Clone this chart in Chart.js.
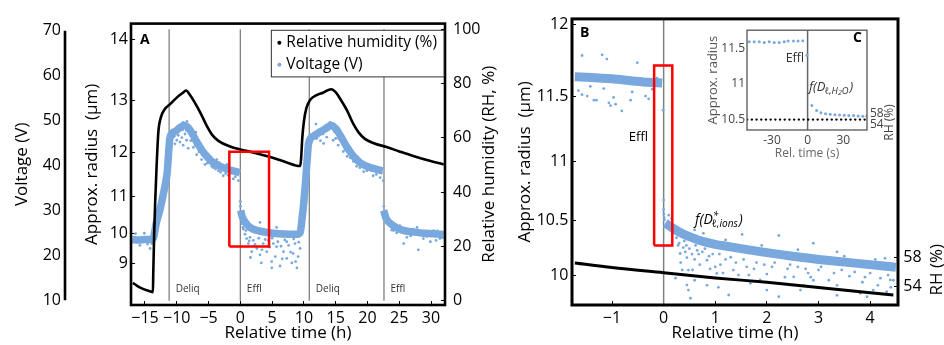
<!DOCTYPE html>
<html><head><meta charset="utf-8">
<script src="https://cdn.jsdelivr.net/npm/chart.js@4"></script>
<style>
html,body{margin:0;padding:0;background:#fff;}
#wrap{position:relative;width:944px;height:345px;overflow:hidden;background:#fff;}
canvas{position:absolute;}
</style></head><body>
<div id="wrap">
<canvas id="cA" width="500" height="345" style="left:0;top:0"></canvas>
<canvas id="cB" width="444" height="345" style="left:500px;top:0"></canvas>
<canvas id="cC" width="215" height="150" style="left:690px;top:20px"></canvas>
</div>
<script>
// ================= DATA =================
// Panel A
const xTicksA = [-15,-10,-5,0,5,10,15,20,25,30];
const radiusTicksA = [9,10,11,12,13,14];
const voltTicksA = [10,20,30,40,50,60,70];
const rhTicksA = [0,20,40,60,80,100];
const rhTimeA = [-16.9,-16.3,-15.5,-14.6,-13.75,-13.7,-13.55,-13.4,-13.2,-12.9,-12.5,-11.9,-11,-10,-9.2,-8.5,-8,-7.3,-6.3,-5.3,-4.4,-3.4,-1.6,0,2,4.7,7,9.4,9.55,9.75,10,10.4,11,12,13,14.3,15,15.8,16.8,17.8,18.6,19.6,21,23,25,27.2,29.5,32];
const rhValA  = [6.6,5.6,4.6,3.8,3.2,10,25,36,48,62,67.5,70.5,72.5,74.8,76.3,77.4,76,73.5,69.3,64.5,61,58.8,56.8,55.7,54.6,52.9,51.2,49.6,52,60,66,71,74,75.7,76.6,77.9,76.8,74,70,65,62,59.6,58,56.6,55,53.3,51.7,50.2];
const voltTimeA = [-17,-16,-15,-14,-13.7,-13.2,-12.65,-12.1,-11.7,-11.5,-11.3,-11.1,-10.7,-10.2,-9.5,-8.8,-8.2,-7.5,-6.8,-6,-5.2,-4.4,-3.5,-2.5,-1.5,-0.4,-0.05,0,
  0.05,0.3,0.7,1.2,2,3,4.5,6,7.5,9.0,9.4,9.7,10.0,10.3,10.55,10.75,11.5,12.5,13.5,14.3,15,15.8,16.6,17.4,18.2,19.2,20.3,21.5,22.4,22.5,
  22.55,22.9,23.5,24.5,25.5,27,29,31,32];
const voltValA = [23.5,23.4,23.5,23.5,23.8,27.3,30.1,33.7,36.6,38.5,42.4,46,47.2,47.6,48.4,48.9,48.4,46.9,45.1,43.3,41.9,40.8,40.0,39.4,38.9,38.5,38.3,null,
  30.0,28.6,27.5,26.6,25.8,25.4,25.0,24.8,24.7,24.7,25.0,28,32,37,42,45,46.5,47.4,48.3,48.9,48.2,46.5,44.5,42.8,41.4,40.3,39.6,39.1,38.8,null,
  30.0,28.3,27.2,26.2,25.6,25.2,24.9,24.7,24.6];
const voltSprayTimeA = [-15.8,-14.2,-16.5,-15.1,-14.6,-13.9,
  -10.8,-10.55,-10.0,-9.76,-9.5,-9.0,-8.45,-8.2,-7.1,-6.87,-6.1,-5.56,-4.77,-4.25,-3.46,-2.68,-1.62,-1.1,-0.57,-0.31,-3.7,-2.1,
  -10.3,-9.2,-8.7,-7.8,-7.4,-6.5,-5.9,-5.2,-4.5,-3.9,-3.1,-2.3,-1.9,-0.8,-9.0,-8.4,-7.0,
  -10.9,-10.4,-9.8,-9.1,-8.5,-7.7,-7.2,-6.6,-6.2,-5.7,-5.0,-4.1,-3.3,-2.8,-1.3,
  0.0,0.03,0.5,1.0,1.26,1.8,2.05,2.6,3.1,3.6,4.16,4.94,4.94,5.5,5.7,6.25,6.8,7.3,7.6,8.1,8.3,8.9,9.1,9.4,0.74,1.53,4.4,7.3,8.6,5.2,9.4,5.7,3.1,
  0.2,0.4,0.9,1.4,2.3,2.9,3.4,3.9,4.6,5.0,5.9,6.4,6.6,7.0,7.9,8.4,8.7,9.2,1.6,3.3,
  11.2,12.0,13.1,13.6,14.6,15.4,16.2,17.3,17.8,18.8,19.9,20.9,22.0,22.5,11.9,14.1,12.6,15.0,16.8,18.3,19.4,21.4,
  11.0,11.7,12.3,13.0,13.9,14.8,15.5,16.0,16.5,17.0,17.6,18.5,19.0,20.0,20.6,21.8,22.2,
  25.7,28.0,29.9,31.4,24.1,26.2,27.2,28.8,30.4,25.1,22.55,22.58,
  23.2,23.8,24.6,26.8,27.8,29.3,31.0,31.8,30.8];
const voltSprayValA = [22.2,21.5,24.8,24.9,22.5,22.6,
  47,46.3,45.6,46.7,45.2,44.5,45.6,43.8,44.5,42.4,41.3,40.2,40.9,39.5,38.8,37.7,38.4,37,38.1,36.6,41.3,40.2,
  44.8,46.2,47.0,45.5,44.0,43.0,42.2,40.5,39.8,39.2,38.5,38.2,37.8,37.5,49.6,49.8,47.4,
  45.5,46.5,47.8,47.9,47.8,47.3,46.3,44.2,44.0,42.8,42.3,40.3,40.6,39.8,38.4,
  32,30.9,25.8,23.7,22.6,20.8,23.3,21.5,20.1,22.6,20.8,17.2,18.6,19.7,21.9,17.6,20.8,19.3,22.2,18.3,20.4,17.2,19.7,21.5,24.7,24.0,23.3,23,22.6,22.6,26.9,26.2,27.3,
  27,26.2,25.5,23.2,22.4,23.8,21.2,23.5,21.8,23.8,23.0,22.0,19.2,23.4,20.7,23.6,18.6,22.9,19.5,18.3,
  45.2,46,44.9,46.3,45.6,44.5,43.1,41.7,40.9,39.5,38.8,37.7,37.3,36.6,49.2,49.6,45.5,46.0,42.0,39.8,38.6,38.0,
  46.8,46.3,47.9,47.0,48.0,47.5,46.0,45.9,43.5,43.8,42.3,41.9,40.8,40.0,38.9,38.7,38.3,
  22.6,21.2,23,23.7,25.5,24.0,25.8,23.7,25.5,26.6,29.4,30.9,
  27.0,25.6,25.0,24.3,26.2,24.2,25.4,23.9,23.3];
const phaseTimesA = [-11.2, 0, 10.85, 22.6];
const phaseNamesA = ['Deliq','Effl','Deliq','Effl'];
const zoomBoxTimeA = [-1.73, 4.52];
const zoomBoxRadiusA = [9.6, 12.02];

// Panel B
const xTicksB = [-1,0,1,2,3,4];
const radiusTicksB = [10,10.5,11,11.5,12];
const rhTicksB = [54,58];
const radTimeB = [-1.72,-1.4,-1.0,-0.6,-0.3,-0.03,0,0.03,0.1,0.2,0.35,0.5,0.7,1.0,1.25,1.5,1.9,2.5,3.2,3.8,4.5];
const radValB  = [11.64,11.635,11.625,11.61,11.6,11.595,null,10.48,10.46,10.43,10.39,10.36,10.325,10.29,10.27,10.25,10.22,10.18,10.14,10.11,10.075];
const radSprayTimeB = [-1.58,-1.19,-1.10,-0.51,-1.65,-1.58,-1.48,-1.35,-1.30,-1.42,-1.16,-1.06,-0.97,-0.93,-0.81,-0.64,-0.61,-0.35,-0.29,-0.22,-0.13,-0.01,-1.03,
  0.0,0.0,0.005,0.01,0.015,
  0.23,0.32,0.45,0.48,0.45,0.48,0.52,0.65,0.84,1.03,1.26,1.35,1.61,1.87,2.0,2.26,2.52,2.71,2.9,3.16,3.36,3.55,3.81,4.06,4.32,4.39,2.23,0.84,1.06,1.68,2.0,2.65,3.36,3.94,
  2.23,2.9,1.52,0.77,4.29,3.36,
  0.3,0.38,0.42,0.55,0.6,0.7,0.9,1.1,1.2,1.4,1.75,2.1,2.4,2.8,3.0,3.3,3.6,3.9,4.2,4.45,
  0.25,0.28,0.33,0.36,0.4,0.44,0.5,0.56,0.6,0.62,0.68,0.75,0.8,0.88,0.95,1.0,1.08,1.15,1.3,1.45,1.55,1.65,1.8,1.95,2.15,2.35,2.45,2.6,2.75,2.85,3.05,3.2,3.45,3.7,3.85,4.0,4.15,4.35,4.4,
  0.6,1.2,1.9,2.6,3.5,4.1,0.15,0.1];
const radSprayValB = [11.79,11.795,11.765,11.74,11.54,11.51,11.50,11.47,11.47,11.57,11.555,11.45,11.49,11.44,11.39,11.47,11.53,11.50,11.48,11.55,11.63,11.395,11.43,
  10.68,10.6,10.56,10.53,10.51,
  9.97,10.205,10.167,10.048,9.902,9.853,9.77,10.234,10.142,10.016,9.803,10.048,10.08,9.952,10.01,9.92,9.983,9.90,9.95,9.87,9.90,9.853,9.82,9.853,9.836,9.952,9.786,9.90,9.88,9.92,9.853,9.853,9.80,9.786,
  10.37,10.30,10.38,10.39,10.16,10.22,
  10.3,10.26,10.22,10.2,10.15,10.1,10.06,10.1,10.15,10.12,10.06,10.08,10.06,10.02,10.05,10.02,9.99,9.98,9.97,9.95,
  10.35,10.28,10.12,10.05,10.32,10.28,10.25,10.05,9.95,10.28,10.2,10.22,10.25,10.18,10.2,10.08,10.2,10.02,10.17,10.0,10.15,10.0,10.12,10.1,10.12,9.98,10.1,10.08,10.06,9.98,10.08,9.95,10.05,10.03,9.93,10.02,9.9,10.0,9.88,
  10.42,10.33,10.28,10.24,10.18,10.15,10.52,10.55];
const rhTimeB = [-1.72,-1,0,1,2,3,4,4.45];
const rhValB  = [57.2,56.6,55.9,55.2,54.6,53.9,53.2,52.9];
const zoomBoxTimeB = [-0.184, 0.168];
const zoomBoxRadiusB = [10.28, 11.72];

// Inset C
const xTicksC = [-30,0,30];
const radiusTicksC = [10.5,11,11.5];
const rhTicksC = [54,58];
const radTimeC = [-49.1,-44.9,-40.7,-36.5,-32.3,-28.1,-23.9,-19.7,-16.4,-11.9,-8.0,-4.1,-0.6,3.6,7.6,11.2,15.1,19.0,23.0,26.9,30.8,34.7,38.7,42.6,46.5,49.9];
const radValC  = [11.591,11.591,11.59,11.582,11.591,11.582,11.582,11.591,11.6,11.6,11.6,11.605,11.40,10.697,10.628,10.596,10.582,10.573,10.568,10.564,10.559,10.555,10.555,10.55,10.545,10.55];
const rhTimeC = [-51, 50];
const rhValC  = [55.66, 55.66];

// ================= HELPERS =================
const K_A = 0.0248;                 // voltage per µm³ (radius axis of panel A)
const volt = r => K_A * r * r * r;
const cube = r => r * r * r;
const BLUE = '#78a8de';
const FAM = "'Open Sans', 'DejaVu Sans', sans-serif";
Chart.defaults.font.family = FAM;
Chart.defaults.color = '#000';
Chart.defaults.animation = false;
Chart.defaults.plugins.legend.display = false;
Chart.defaults.plugins.tooltip.enabled = false;

const pts = (xs, ys, f) => xs.map((x, i) => ({x, y: ys[i] == null ? null : (f ? f(ys[i]) : ys[i])}));
const minus = v => String(v).replace('-', '\u2212');
const fixTicks = vals => s => { s.ticks = vals.map(v => ({value: v})); };
const boxPts = (xs, ys, f) => { const g = f || (v => v); return [
  {x: xs[0], y: g(ys[0])}, {x: xs[1], y: g(ys[0])}, {x: xs[1], y: g(ys[1])}, {x: xs[0], y: g(ys[1])}, {x: xs[0], y: g(ys[0])}]; };

function frame(lw, color) {
  return {id: 'frame' + lw, afterDraw(chart) {
    const {ctx, chartArea: a} = chart;
    ctx.save(); ctx.lineWidth = lw; ctx.strokeStyle = color;
    ctx.strokeRect(a.left, a.top, a.right - a.left, a.bottom - a.top); ctx.restore();
  }};
}
function rotText(ctx, text, x, y, font, color) {
  ctx.save(); ctx.translate(x, y); ctx.rotate(-Math.PI / 2);
  ctx.font = font; ctx.fillStyle = color; ctx.textAlign = 'center'; ctx.textBaseline = 'middle';
  ctx.fillText(text, 0, 0); ctx.restore();
}
function fD(ctx, x, y, sup, subParts, size, color) {
  ctx.save(); ctx.fillStyle = color; ctx.textBaseline = 'middle'; ctx.textAlign = 'left';
  ctx.font = `italic ${size}px ${FAM}`;
  ctx.fillText('f(D', x, y);
  let cx = x + ctx.measureText('f(D').width - size * 0.08;
  const small = size * 0.72;
  ctx.font = `italic ${small}px ${FAM}`;
  if (sup) ctx.fillText(sup, cx + 1, y - size * 0.32);
  let sx = cx;
  for (const p of subParts) {
    ctx.font = `italic ${p.s ? small * 0.75 : small}px ${FAM}`;
    ctx.fillText(p.t, sx, y + size * (p.s ? 0.42 : 0.3));
    sx += ctx.measureText(p.t).width;
  }
  ctx.font = `italic ${size}px ${FAM}`;
  ctx.fillText(')', sx + 1, y);
  ctx.restore();
}

// ================= PANEL A =================
const VMIN = 8.92, VMAX = 71.58;
new Chart(document.getElementById('cA'), {
  type: 'scatter',
  data: {datasets: [
    {label: 'zoom', data: boxPts(zoomBoxTimeA, zoomBoxRadiusA, volt), yAxisID: 'yV', showLine: true,
     borderColor: '#ff0000', borderWidth: 2.5, pointRadius: 0, order: 0},
    {label: 'Relative humidity (%)', data: pts(rhTimeA, rhValA), yAxisID: 'yRH', showLine: true,
     borderColor: '#000', backgroundColor: '#000', borderWidth: 2.6, pointRadius: 0, cubicInterpolationMode: 'monotone', order: 1},
    {label: 'Voltage (V)', data: pts(voltSprayTimeA, voltSprayValA), yAxisID: 'yV',
     backgroundColor: BLUE, borderWidth: 0, pointRadius: 1.4, order: 2},
    {label: 'Voltage band', data: pts(voltTimeA, voltValA), yAxisID: 'yV', showLine: true, spanGaps: false,
     borderColor: BLUE, borderWidth: 7.5, pointRadius: 0, cubicInterpolationMode: 'monotone', order: 3},
    ...phaseTimesA.map((t, i) => ({label: 'phase' + i, data: [{x: t, y: 0}, {x: t, y: 100}], yAxisID: 'yRH', showLine: true,
     borderColor: '#808080', borderWidth: 1.3, pointRadius: 0, order: 4}))
  ]},
  options: {
    responsive: false, devicePixelRatio: 1,
    layout: {padding: {top: 15, left: 0, right: 0, bottom: 0}},
    scales: {
      x: {type: 'linear', position: 'bottom', min: -17.2, max: 32.2,
        afterBuildTicks: fixTicks(xTicksA),
        ticks: {callback: v => minus(v), font: {size: 16}, padding: 8, maxRotation: 0, autoSkip: false},
        grid: {drawOnChartArea: false, drawTicks: true, tickLength: -4, color: '#000'},
        border: {display: false},
        title: {display: true, text: 'Relative time (h)', font: {size: 17}, padding: {top: 0, bottom: 2}},
        afterFit: s => { s.height = 40; }},
      yR: {type: 'linear', position: 'left', weight: 0, min: VMIN, max: VMAX,
        afterBuildTicks: s => { s.ticks = radiusTicksA.map(r => ({value: volt(r)})); },
        ticks: {callback: (v, i) => String(radiusTicksA[i]), font: {size: 16}, padding: 7},
        grid: {drawOnChartArea: false, drawTicks: true, tickLength: -4, color: '#000'},
        border: {display: false},
        title: {display: true, text: 'Approx. radius  (\u00b5m)', font: {size: 17}, padding: {top: 7}},
        afterFit: s => { s.width = 56; }},
      yV: {type: 'linear', position: 'left', weight: 5, min: VMIN, max: VMAX,
        afterBuildTicks: fixTicks(voltTicksA),
        ticks: {font: {size: 16}, padding: 14},
        grid: {display: false, drawTicks: false},
        border: {display: false},
        title: {display: true, text: 'Voltage (V)', font: {size: 17}, padding: {top: 12}},
        afterFit: s => { s.width = 75; }},
      yRH: {type: 'linear', position: 'right', min: -1.54, max: 102.04,
        afterBuildTicks: fixTicks(rhTicksA),
        ticks: {font: {size: 16}, padding: 12},
        grid: {drawOnChartArea: false, drawTicks: true, tickLength: -4, color: '#000'},
        border: {display: false},
        afterFit: s => { s.width = 55; }}
    }
  },
  plugins: [frame(2.6, '#000'), {id: 'annA', afterDraw(chart) {
    const {ctx, chartArea: a, scales: {x, yV, yRH}} = chart;
    // far-left voltage axis line
    ctx.save(); ctx.strokeStyle = '#000'; ctx.lineWidth = 2.6;
    ctx.beginPath(); ctx.moveTo(yV.right - 10, yV.getPixelForValue(voltTicksA[voltTicksA.length - 1]));
    ctx.lineTo(yV.right - 10, yV.getPixelForValue(voltTicksA[0])); ctx.stroke(); ctx.restore();
    // right axis title
    rotText(ctx, 'Relative humidity (RH, %)', yRH.left + 44, (a.top + a.bottom) / 2, `17px ${FAM}`, '#000');
    // phase labels
    ctx.save(); ctx.font = `10px ${FAM}`; ctx.fillStyle = '#333'; ctx.textBaseline = 'middle'; ctx.textAlign = 'left';
    phaseTimesA.forEach((t, i) => ctx.fillText(phaseNamesA[i], x.getPixelForValue(t) + 6.5, yRH.getPixelForValue(4.4)));
    // panel letter
    ctx.font = `bold 14px ${FAM}`; ctx.fillStyle = '#000';
    ctx.fillText('A', a.left + 9, a.top + 16);
    // legend
    const items = [chart.data.datasets[1], chart.data.datasets[2]];
    ctx.font = `15.5px ${FAM}`;
    const tw = Math.max(...items.map(d => ctx.measureText(d.label).width));
    const w = tw + 22, h = 46.6, lx = a.right - 1 - w, ly = a.top + 6.7;
    ctx.fillStyle = '#fff'; ctx.fillRect(lx, ly, w, h);
    ctx.strokeStyle = '#333'; ctx.lineWidth = 1; ctx.strokeRect(lx, ly, w, h);
    items.forEach((d, i) => {
      const yy = ly + 12.5 + i * 22;
      ctx.fillStyle = i === 0 ? '#000' : BLUE;
      ctx.beginPath(); ctx.arc(lx + 8, yy, 2, 0, Math.PI * 2); ctx.fill();
      ctx.fillStyle = '#000'; ctx.fillText(d.label, lx + 15, yy);
    });
    ctx.restore();
  }}]
});

// ================= PANEL B =================
const RB_MIN = 913.0, RB_MAX = 1745.4;
new Chart(document.getElementById('cB'), {
  type: 'scatter',
  data: {datasets: [
    {label: 'zoom', data: boxPts(zoomBoxTimeB, zoomBoxRadiusB, cube), yAxisID: 'yR', showLine: true,
     borderColor: '#ff0000', borderWidth: 2.5, pointRadius: 0, order: 0},
    {label: 'RH', data: pts(rhTimeB, rhValB), yAxisID: 'yRH', showLine: true,
     borderColor: '#000', borderWidth: 3, pointRadius: 0, cubicInterpolationMode: 'monotone', order: 1},
    {label: 'radius spray', data: pts(radSprayTimeB, radSprayValB, cube), yAxisID: 'yR',
     backgroundColor: BLUE, borderWidth: 0, pointRadius: 1.4, order: 2},
    {label: 'radius band', data: pts(radTimeB, radValB, cube), yAxisID: 'yR', showLine: true, spanGaps: false,
     borderColor: BLUE, borderWidth: 9, pointRadius: 0, cubicInterpolationMode: 'monotone', order: 3},
    {label: 'effl', data: [{x: 0, y: RB_MIN}, {x: 0, y: RB_MAX}], yAxisID: 'yR', showLine: true,
     borderColor: '#808080', borderWidth: 1.5, pointRadius: 0, order: 4}
  ]},
  options: {
    responsive: false, devicePixelRatio: 1,
    layout: {padding: {top: 18, left: 0, right: 0, bottom: 0}},
    scales: {
      x: {type: 'linear', position: 'bottom', min: -1.775, max: 4.54,
        afterBuildTicks: fixTicks(xTicksB),
        ticks: {callback: v => minus(v), font: {size: 16}, padding: 8, maxRotation: 0, autoSkip: false},
        grid: {drawOnChartArea: false, drawTicks: true, tickLength: -4, color: '#000'},
        border: {display: false},
        title: {display: true, text: 'Relative time (h)', font: {size: 17}, padding: {top: 0, bottom: 2}},
        afterFit: s => { s.height = 40; }},
      yR: {type: 'linear', position: 'left', min: RB_MIN, max: RB_MAX,
        afterBuildTicks: s => { s.ticks = radiusTicksB.map(r => ({value: cube(r)})); },
        ticks: {callback: (v, i) => String(radiusTicksB[i]), font: {size: 16}, padding: 7.7},
        grid: {drawOnChartArea: false, drawTicks: true, tickLength: -4, color: '#000'},
        border: {display: false},
        title: {display: true, text: 'Approx. radius  (\u00b5m)', font: {size: 17}, padding: {top: 14.8}},
        afterFit: s => { s.width = 72; }},
      yRH: {type: 'linear', position: 'right', min: 51.54, max: 90.19,
        afterBuildTicks: fixTicks(rhTicksB),
        ticks: {font: {size: 16}, padding: 9.3},
        grid: {drawOnChartArea: false, drawTicks: true, tickLength: -4, color: '#000'},
        border: {display: false},
        afterFit: s => { s.width = 46; }}
    }
  },
  plugins: [frame(3, '#000'), {id: 'annB', afterDraw(chart) {
    const {ctx, chartArea: a, scales: {x, yR, yRH}} = chart;
    rotText(ctx, 'RH (%)', yRH.left + 39, yRH.getPixelForValue(56.3), `17px ${FAM}`, '#000');
    ctx.save(); ctx.textBaseline = 'middle';
    ctx.font = `bold 14px ${FAM}`; ctx.fillStyle = '#000'; ctx.textAlign = 'left';
    ctx.fillText('B', a.left + 8, a.top + 14);
    ctx.font = `13px ${FAM}`; ctx.textAlign = 'center';
    ctx.fillText('Effl', x.getPixelForValue(-0.49), yR.getPixelForValue(cube(11.19)));
    ctx.restore();
    fD(ctx, x.getPixelForValue(0.61), yR.getPixelForValue(cube(10.505)), '*', [{t: '\u2113,ions'}], 14, '#000');
  }}]
});

// ================= INSET C =================
new Chart(document.getElementById('cC'), {
  type: 'scatter',
  data: {datasets: [
    {label: 'RH', data: pts(rhTimeC, rhValC), yAxisID: 'yRH', showLine: true,
     borderColor: '#000', borderWidth: 2.2, borderDash: [0.3, 4.4], borderCapStyle: 'round', pointRadius: 0, order: 1},
    {label: 'radius', data: pts(radTimeC, radValC), yAxisID: 'yR',
     backgroundColor: BLUE, borderWidth: 0, pointRadius: 1.5, order: 2},
    {label: 'effl', data: [{x: 0, y: 10.353}, {x: 0, y: 11.753}], yAxisID: 'yR', showLine: true,
     borderColor: '#666', borderWidth: 1.5, pointRadius: 0, order: 3}
  ]},
  options: {
    responsive: false, devicePixelRatio: 1,
    layout: {padding: {top: 8.3, left: 0, right: 0, bottom: 0}},
    scales: {
      x: {type: 'linear', position: 'bottom', min: -51, max: 50,
        afterBuildTicks: fixTicks(xTicksC),
        ticks: {font: {size: 12}, color: '#444', padding: 3, maxRotation: 0, autoSkip: false},
        grid: {display: false, drawTicks: false},
        border: {display: false},
        title: {display: true, text: 'Rel. time (s)', font: {size: 12}, color: '#666', padding: {top: 0, bottom: 9}},
        afterFit: s => { s.height = 40; }},
      yR: {type: 'linear', position: 'left', min: 10.353, max: 11.753,
        afterBuildTicks: fixTicks(radiusTicksC),
        ticks: {callback: (v, i) => String(radiusTicksC[i]), font: {size: 12}, color: '#444', padding: 2},
        grid: {display: false, drawTicks: false},
        border: {display: false},
        title: {display: true, text: 'Approx. radius', font: {size: 13}, color: '#555', padding: {top: 15}},
        afterFit: s => { s.width = 57; }},
      yRH: {type: 'linear', position: 'right', min: 51.9, max: 87.9,
        afterBuildTicks: fixTicks(rhTicksC),
        ticks: {callback: (v, i) => String(rhTicksC[i]), font: {size: 12}, color: '#444', padding: 3},
        grid: {display: false, drawTicks: false},
        border: {display: false},
        afterFit: s => { s.width = 38; }}
    }
  },
  plugins: [frame(1.3, '#555'), {id: 'annC', afterDraw(chart) {
    const {ctx, chartArea: a, scales: {x, yR, yRH}} = chart;
    rotText(ctx, 'RH (%)', yRH.left + 23, yRH.getPixelForValue(54.6), `12px ${FAM}`, '#444');
    ctx.save(); ctx.textBaseline = 'middle';
    ctx.font = `bold 14px ${FAM}`; ctx.fillStyle = '#000'; ctx.textAlign = 'right';
    ctx.fillText('C', a.right - 5, a.top + 8);
    ctx.font = `12.5px ${FAM}`; ctx.fillStyle = '#333'; ctx.textAlign = 'right';
    ctx.fillText('Effl', x.getPixelForValue(-2.9), yR.getPixelForValue(11.36));
    ctx.restore();
    fD(ctx, x.getPixelForValue(1.2), yR.getPixelForValue(10.95), '', [{t: '\u2113,H'}, {t: '2', s: true}, {t: 'O'}], 13, '#333');
  }}]
});
</script>
</body></html>
